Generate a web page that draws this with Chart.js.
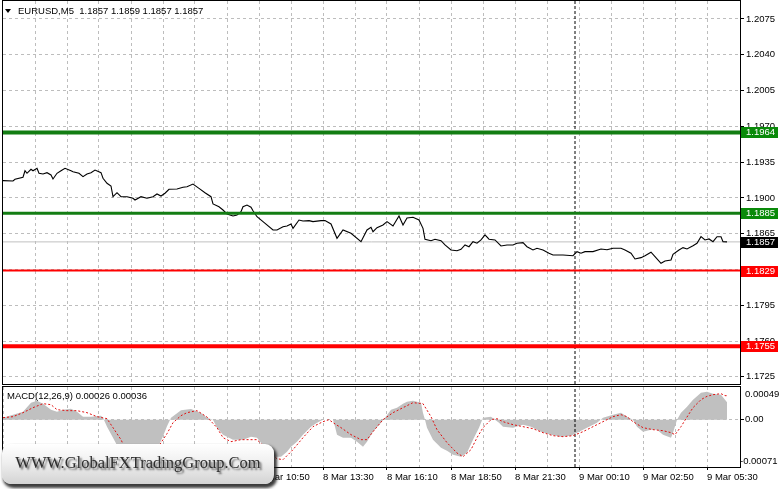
<!DOCTYPE html>
<html>
<head>
<meta charset="utf-8">
<title>EURUSD M5</title>
<script src="https://cdn.jsdelivr.net/npm/chart.js@4.4.1/dist/chart.umd.min.js"></script>
<style>
  html, body { margin:0; padding:0; background:#fff; }
  #stage { position:relative; width:781px; height:489px; overflow:hidden; background:#fff; font-family:"Liberation Sans", Arial, sans-serif; }
  #main { position:absolute; left:0; top:0; }
  #macd { position:absolute; left:0; top:380px; }
  .lbl { position:absolute; font-size:9.5px; line-height:11px; color:#000; white-space:pre; }
  #title { left:18px; top:4.5px; }
  #tri { position:absolute; left:5px; top:9px; width:0; height:0; border-left:3.5px solid transparent; border-right:3.5px solid transparent; border-top:4px solid #000; }
  #macdTitle { left:7px; top:390px; }
  #wm { position:absolute; left:2px; top:444px; width:272px; height:40px; border-radius:9px;
        background:linear-gradient(to bottom,#ffffff 0%,#f0f0f0 45%,#d3d3d3 100%);
        box-shadow: 2px 3px 3px 1px rgba(25,25,25,0.85);
        font-family:"Liberation Serif","Times New Roman",serif; font-size:16.5px; line-height:38px;
        text-align:center; color:#2e2e2e; text-shadow: 2px 2px 2px rgba(0,0,0,0.6); white-space:nowrap; }
</style>
</head>
<body>
<div id="stage">
  <canvas id="main" width="781" height="386"></canvas>
  <canvas id="macd" width="781" height="109"></canvas>
  <div id="tri"></div>
  <div id="title" class="lbl"></div>
  <div id="macdTitle" class="lbl"></div>
  <div id="wm">WWW.GlobalFXTradingGroup.Com</div>
</div>
<script>
// ---------------- data (bar index = 5-minute bars from 8 Mar 00:10) ----------------
const symbolName = 'EURUSD,M5';
const lastOHLC = [1.1857, 1.1859, 1.1857, 1.1857];
const macdHeader = [0.00026, 0.00036];

const priceTicks = [1.2075, 1.2040, 1.2005, 1.1970, 1.1935, 1.1900, 1.1865, 1.1830, 1.1795, 1.1760, 1.1725];
const priceRange = [1.171803, 1.209260];
const macdTicks = [0.00049, 0, -0.00071];

const gridBars = [16,32,48,64,80,96,112,128,144,160,176,192,208,224,240,256,272,288,304,320,336,352];
const labelBars = [0,32,64,96,128,160,192,224,256,288,320,352];
const timeLabels = ['8 Mar 00:10','8 Mar 02:50','8 Mar 05:30','8 Mar 08:10','8 Mar 10:50','8 Mar 13:30',
                    '8 Mar 16:10','8 Mar 18:50','8 Mar 21:30','9 Mar 00:10','9 Mar 02:50','9 Mar 05:30'];
const barSpan = [0, 368.5];
const daySeparatorBar = 286;

const levelValues = [1.1964, 1.1885, 1.1829, 1.1755];
const bidPrice = 1.1857;

const pricePath = [
 [0,1.19169],[5,1.19166],[6,1.19182],[10,1.19202],[11,1.19266],[12,1.19241],[14,1.19280],[15,1.19266],
 [17,1.19290],[18,1.19241],[20,1.19234],[22,1.19247],[24,1.19225],[25,1.19185],[27,1.19241],[29,1.19266],
 [31,1.19290],[34,1.19266],[35,1.19257],[38,1.19241],[40,1.19208],[42,1.19234],[44,1.19247],[46,1.19273],
 [49,1.19247],[50,1.19192],[52,1.19143],[54,1.19117],[55,1.19012],[57,1.19051],[59,1.19012],[62,1.19012],
 [65,1.18997],[66,1.18980],[69,1.19012],[72,1.18997],[75,1.19012],[77,1.19039],[79,1.19019],[81,1.19046],
 [83,1.19085],[87,1.19088],[90,1.19104],[92,1.19110],[95,1.19136],[98,1.19094],[101,1.19051],[104,1.19012],
 [105,1.18941],[108,1.18914],[110,1.18882],[112,1.18843],[115,1.18824],[117,1.18833],[119,1.18866],[120,1.18914],
 [122,1.18931],[124,1.18909],[125,1.18875],[127,1.18816],[130,1.18768],[135,1.18687],[137,1.18687],[140,1.18719],
 [142,1.18726],[144,1.18745],[145,1.18703],[148,1.18784],[150,1.18775],[153,1.18778],[155,1.18768],[159,1.18778],
 [161,1.18778],[164,1.18745],[167,1.18605],[170,1.18687],[174,1.18654],[179,1.18572],[182,1.18687],[184,1.18713],
 [185,1.18670],[187,1.18709],[190,1.18735],[192,1.18768],[195,1.18726],[198,1.18823],[200,1.18735],[202,1.18804],
 [205,1.18811],[208,1.18784],[210,1.18703],[211,1.18596],[214,1.18582],[216,1.18596],[219,1.18582],[221,1.18540],
 [224,1.18491],[227,1.18484],[229,1.18498],[231,1.18540],[233,1.18523],[235,1.18572],[237,1.18557],[239,1.18589],
 [241,1.18638],[243,1.18596],[246,1.18589],[249,1.18530],[252,1.18540],[255,1.18540],[257,1.18557],[260,1.18563],
 [262,1.18523],[265,1.18491],[267,1.18508],[270,1.18491],[273,1.18459],[275,1.18442],[280,1.18442],[285,1.18435],
 [287,1.18475],[289,1.18459],[291,1.18475],[295,1.18475],[299,1.18501],[302,1.18494],[305,1.18508],[309,1.18508],
 [311,1.18491],[314,1.18459],[316,1.18403],[319,1.18416],[321,1.18435],[324,1.18469],[326,1.18426],[329,1.18361],
 [331,1.18383],[334,1.18393],[335,1.18449],[338,1.18491],[340,1.18514],[342,1.18501],[345,1.18533],[347,1.18557],
 [349,1.18621],[351,1.18589],[353,1.18599],[355,1.18572],[357,1.18621],[359,1.18621],[360,1.18572],[362,1.18570]
];

const macdHist = [
 [0,0.00003],[5,0.000075],[10,0.00012],[14,0.000255],[17,0.000285],[20,0.00024],[24,0.00015],[27,0.00012],
 [30,0.00015],[34,0.000165],[37,0.00012],[40,0.000045],[44,0.000045],[49,0.00006],[50,0.00003],[52,-0.000105],
 [55,-0.00027],[59,-0.000495],[64,-0.0006],[69,-0.00064],[74,-0.00058],[77,-0.00045],[80,-0.00025],[82,-0.0001],
 [84,0.00003],[89,0.00014],[94,0.00016],[99,0.0001],[102,0.00003],[105,0],[107,-0.00012],[110,-0.000225],
 [115,-0.0003],[120,-0.0003],[124,-0.000255],[127,-0.00027],[129,-0.000345],[132,-0.00045],[135,-0.000555],[139,-0.000555],
 [142,-0.00048],[144,-0.000405],[147,-0.00033],[150,-0.000225],[154,-0.000105],[157,-0.000045],[160,0],[165,0],
 [166,-0.000105],[167,-0.000225],[170,-0.00027],[174,-0.00027],[177,-0.00033],[180,-0.000405],[182,-0.00033],[185,-0.00018],
 [189,-0.000045],[191,0.00003],[194,0.00015],[197,0.00018],[200,0.00024],[202,0.00027],[205,0.000285],[209,0.000255],
 [210,0.0001],[211,0],[212,-0.00012],[215,-0.0003],[219,-0.00042],[222,-0.000465],[225,-0.000525],[229,-0.000555],
 [232,-0.000495],[235,-0.0003],[238,-0.00012],[240,0.00003],[244,0.000045],[246,0],[248,-0.000045],[250,-0.000105],
 [255,-0.00012],[260,-0.000075],[264,-0.000105],[269,-0.00018],[274,-0.000225],[279,-0.000255],[284,-0.00024],[287,-0.000195],
 [292,-0.00012],[297,-0.000045],[300,0.00003],[305,0.000075],[309,0.000105],[312,0.000045],[315,0],[317,-0.000105],
 [320,-0.00018],[324,-0.00015],[327,-0.00015],[330,-0.000225],[334,-0.00027],[335,-0.000195],[337,0],[339,0.000105],
 [342,0.000195],[345,0.0003],[349,0.000405],[352,0.00042],[355,0.00039],[359,0.000375],[362,0.00026]
];

const macdSignal = [
 [0,0.00003],[5,0.000045],[10,0.000105],[15,0.00018],[20,0.00024],[24,0.000225],[27,0.00015],[32,0.000135],
 [37,0.000135],[42,0.000105],[47,0.000045],[52,0.000015],[55,-0.00012],[59,-0.0003],[62,-0.000495],[67,-0.0006],
 [71,-0.00062],[75,-0.00052],[79,-0.000345],[82,-0.00021],[85,-0.000045],[89,0.00006],[92,0.000105],[97,0.000135],
 [102,0.00004],[107,-0.00012],[110,-0.00027],[114,-0.00033],[119,-0.0003],[127,-0.0003],[130,-0.00039],[134,-0.00051],
 [137,-0.000585],[140,-0.0006],[145,-0.00045],[150,-0.00027],[155,-0.000105],[160,-0.00003],[163,0],[165,-0.000045],
 [169,-0.00012],[174,-0.000225],[179,-0.0003],[182,-0.0003],[185,-0.00018],[190,0],[195,0.000105],[200,0.00018],
 [205,0.000255],[210,0.00024],[214,0.000045],[217,-0.00015],[222,-0.000345],[227,-0.0005],[230,-0.000555],[234,-0.00045],
 [237,-0.00027],[240,-0.00012],[244,0],[247,0.000015],[250,-0.00003],[255,-0.000075],[260,-0.000105],[265,-0.000135],
 [270,-0.000195],[275,-0.00024],[280,-0.000255],[285,-0.00024],[290,-0.00018],[295,-0.000105],[300,-0.00003],[305,0.000045],
 [309,0.000075],[312,0.000045],[315,-0.00003],[320,-0.00012],[325,-0.00015],[330,-0.000165],[334,-0.000195],[336,-0.000225],
 [339,-0.000105],[342,0.00004],[345,0.00018],[349,0.0003],[352,0.00035],[355,0.000375],[359,0.00039],[361,0.00036],[362,0.00036]
];

// ---------------- rendering ----------------
document.getElementById('title').textContent = symbolName + '  ' + lastOHLC.map(v => v.toFixed(4)).join(' ');
document.getElementById('macdTitle').textContent = 'MACD(12,26,9) ' + macdHeader.map(v => v.toFixed(5)).join(' ');

const FONT = { family: '"Liberation Sans", Arial, sans-serif', size: 9.5 };
const FONT_CSS = '9.5px "Liberation Sans", Arial, sans-serif';
const GRID = '#bdbdbd';
const GREEN_LINE = '#137d13', GREEN_TAG = '#0a8a0a', RED = '#ff0000';
const toXY = arr => arr.map(([x, y]) => ({ x, y }));
const hLine = v => [{ x: barSpan[0], y: v }, { x: barSpan[1], y: v }];

const framePlugin = {
  id: 'frame',
  afterDraw(chart) {
    const { ctx, chartArea: a } = chart;
    ctx.save();
    ctx.strokeStyle = '#000'; ctx.lineWidth = 1;
    ctx.strokeRect(a.left - 0.5, a.top - 0.5, a.right - a.left + 1, a.bottom - a.top + 1);
    ctx.restore();
  }
};

const tagColors = [GREEN_TAG, GREEN_TAG, RED, RED];
const tagPlugin = {
  id: 'tags',
  afterDraw(chart) {
    const { ctx, chartArea: a } = chart;
    const ys = chart.scales.y;
    const tags = levelValues.map((v, i) => ({ v, bg: tagColors[i] })).concat([{ v: bidPrice, bg: '#000' }]);
    ctx.save();
    ctx.font = FONT_CSS; ctx.textBaseline = 'middle'; ctx.textAlign = 'left';
    tags.forEach(t => {
      const py = Math.round(ys.getPixelForValue(t.v));
      ctx.fillStyle = t.bg;
      ctx.fillRect(a.right + 1, py - 5, 37, 11);
      ctx.fillStyle = '#fff';
      ctx.fillText(t.v.toFixed(4), a.right + 6, py + 0.5);
    });
    ctx.restore();
  }
};

const macdAxisPlugin = {
  id: 'macdAxis',
  afterDraw(chart) {
    const { ctx, chartArea: a } = chart;
    const ys = chart.scales.y;
    ctx.save();
    ctx.font = FONT_CSS; ctx.textBaseline = 'middle'; ctx.textAlign = 'left'; ctx.fillStyle = '#000';
    macdTicks.forEach((v, i) => {
      const txt = v === 0 ? '0.00' : v.toFixed(5);
      let py = ys.getPixelForValue(v);
      if (i === 0) py += 7;
      if (i === macdTicks.length - 1) py -= 6;
      ctx.fillText(txt, a.right + (v < 0 ? 0 : 5), py);
    });
    ctx.restore();
  }
};

const commonX = {
  type: 'linear', min: barSpan[0], max: barSpan[1],
  border: { display: false, dash: [3, 3] }
};

new Chart(document.getElementById('main'), {
  type: 'line',
  data: {
    datasets: [
      { data: hLine(levelValues[0]), borderColor: GREEN_LINE, borderWidth: 4 },
      { data: hLine(levelValues[1]), borderColor: GREEN_LINE, borderWidth: 3 },
      { data: hLine(levelValues[2]), borderColor: RED, borderWidth: 2 },
      { data: hLine(levelValues[3]), borderColor: RED, borderWidth: 4 },
      { data: [{ x: daySeparatorBar, y: priceRange[0] }, { x: daySeparatorBar, y: priceRange[1] }], borderColor: '#000', borderWidth: 1, borderDash: [3, 2] },
      { data: toXY(pricePath), borderColor: '#000', borderWidth: 1.1 },
      { data: hLine(bidPrice), borderColor: '#c0c0c0', borderWidth: 1 }
    ]
  },
  options: {
    responsive: false, animation: false, events: [],
    layout: { padding: { left: 3, top: 1, right: 0, bottom: 2 } },
    elements: { point: { radius: 0 }, line: { tension: 0, fill: false } },
    plugins: { legend: { display: false }, tooltip: { enabled: false } },
    scales: {
      x: Object.assign({}, commonX, {
        ticks: { display: false },
        grid: { color: GRID, drawTicks: false },
        afterBuildTicks(s) { s.ticks = gridBars.map(v => ({ value: v })); },
        afterFit(s) { s.height = 0; s.paddingLeft = 0; s.paddingRight = 0; }
      }),
      y: {
        position: 'right', min: priceRange[0], max: priceRange[1],
        border: { display: false, dash: [3, 3] },
        grid: { color: GRID, drawTicks: true, tickLength: 4, tickColor: '#000' },
        ticks: { font: FONT, color: '#000', padding: 2, callback: v => Number(v).toFixed(4) },
        afterBuildTicks(s) { s.ticks = priceTicks.map(v => ({ value: v })); },
        afterFit(s) { s.width = 41; s.paddingTop = 0; s.paddingBottom = 0; }
      }
    }
  },
  plugins: [framePlugin, tagPlugin]
});

new Chart(document.getElementById('macd'), {
  type: 'line',
  data: {
    datasets: [
      { data: toXY(macdSignal), borderColor: '#e01010', borderWidth: 1, borderDash: [2, 2] },
      { data: [{ x: daySeparatorBar, y: macdTicks[2] }, { x: daySeparatorBar, y: macdTicks[0] }], borderColor: '#000', borderWidth: 1, borderDash: [3, 2] },
      { data: toXY(macdHist), borderWidth: 0, borderColor: 'rgba(0,0,0,0)', backgroundColor: '#c0c0c0', fill: 'origin' }
    ]
  },
  options: {
    responsive: false, animation: false, events: [],
    layout: { padding: { left: 3, top: 7, right: 0, bottom: 0 } },
    elements: { point: { radius: 0 }, line: { tension: 0, fill: false } },
    plugins: { legend: { display: false }, tooltip: { enabled: false } },
    scales: {
      x: Object.assign({}, commonX, {
        grid: { color: GRID, drawTicks: true, tickLength: 3,
                tickColor: c => (c.tick && labelBars.includes(c.tick.value)) ? '#000' : 'rgba(0,0,0,0)' },
        ticks: { font: FONT, color: '#000', padding: 2, align: 'start', autoSkip: false, maxRotation: 0,
                 callback: v => { const i = labelBars.indexOf(v); return i >= 0 ? timeLabels[i] : ''; } },
        afterBuildTicks(s) { s.ticks = [0].concat(gridBars).map(v => ({ value: v })); },
        afterFit(s) { s.height = 22; s.paddingLeft = 0; s.paddingRight = 0; }
      }),
      y: {
        position: 'right', min: macdTicks[2], max: macdTicks[0],
        border: { display: false, dash: [3, 3] },
        grid: { color: GRID, drawTicks: true, tickLength: 4, tickColor: '#000' },
        ticks: { display: false },
        afterBuildTicks(s) { s.ticks = [{ value: 0 }]; },
        afterFit(s) { s.width = 41; s.paddingTop = 0; s.paddingBottom = 0; }
      }
    }
  },
  plugins: [framePlugin, macdAxisPlugin]
});
</script>
</body>
</html>
